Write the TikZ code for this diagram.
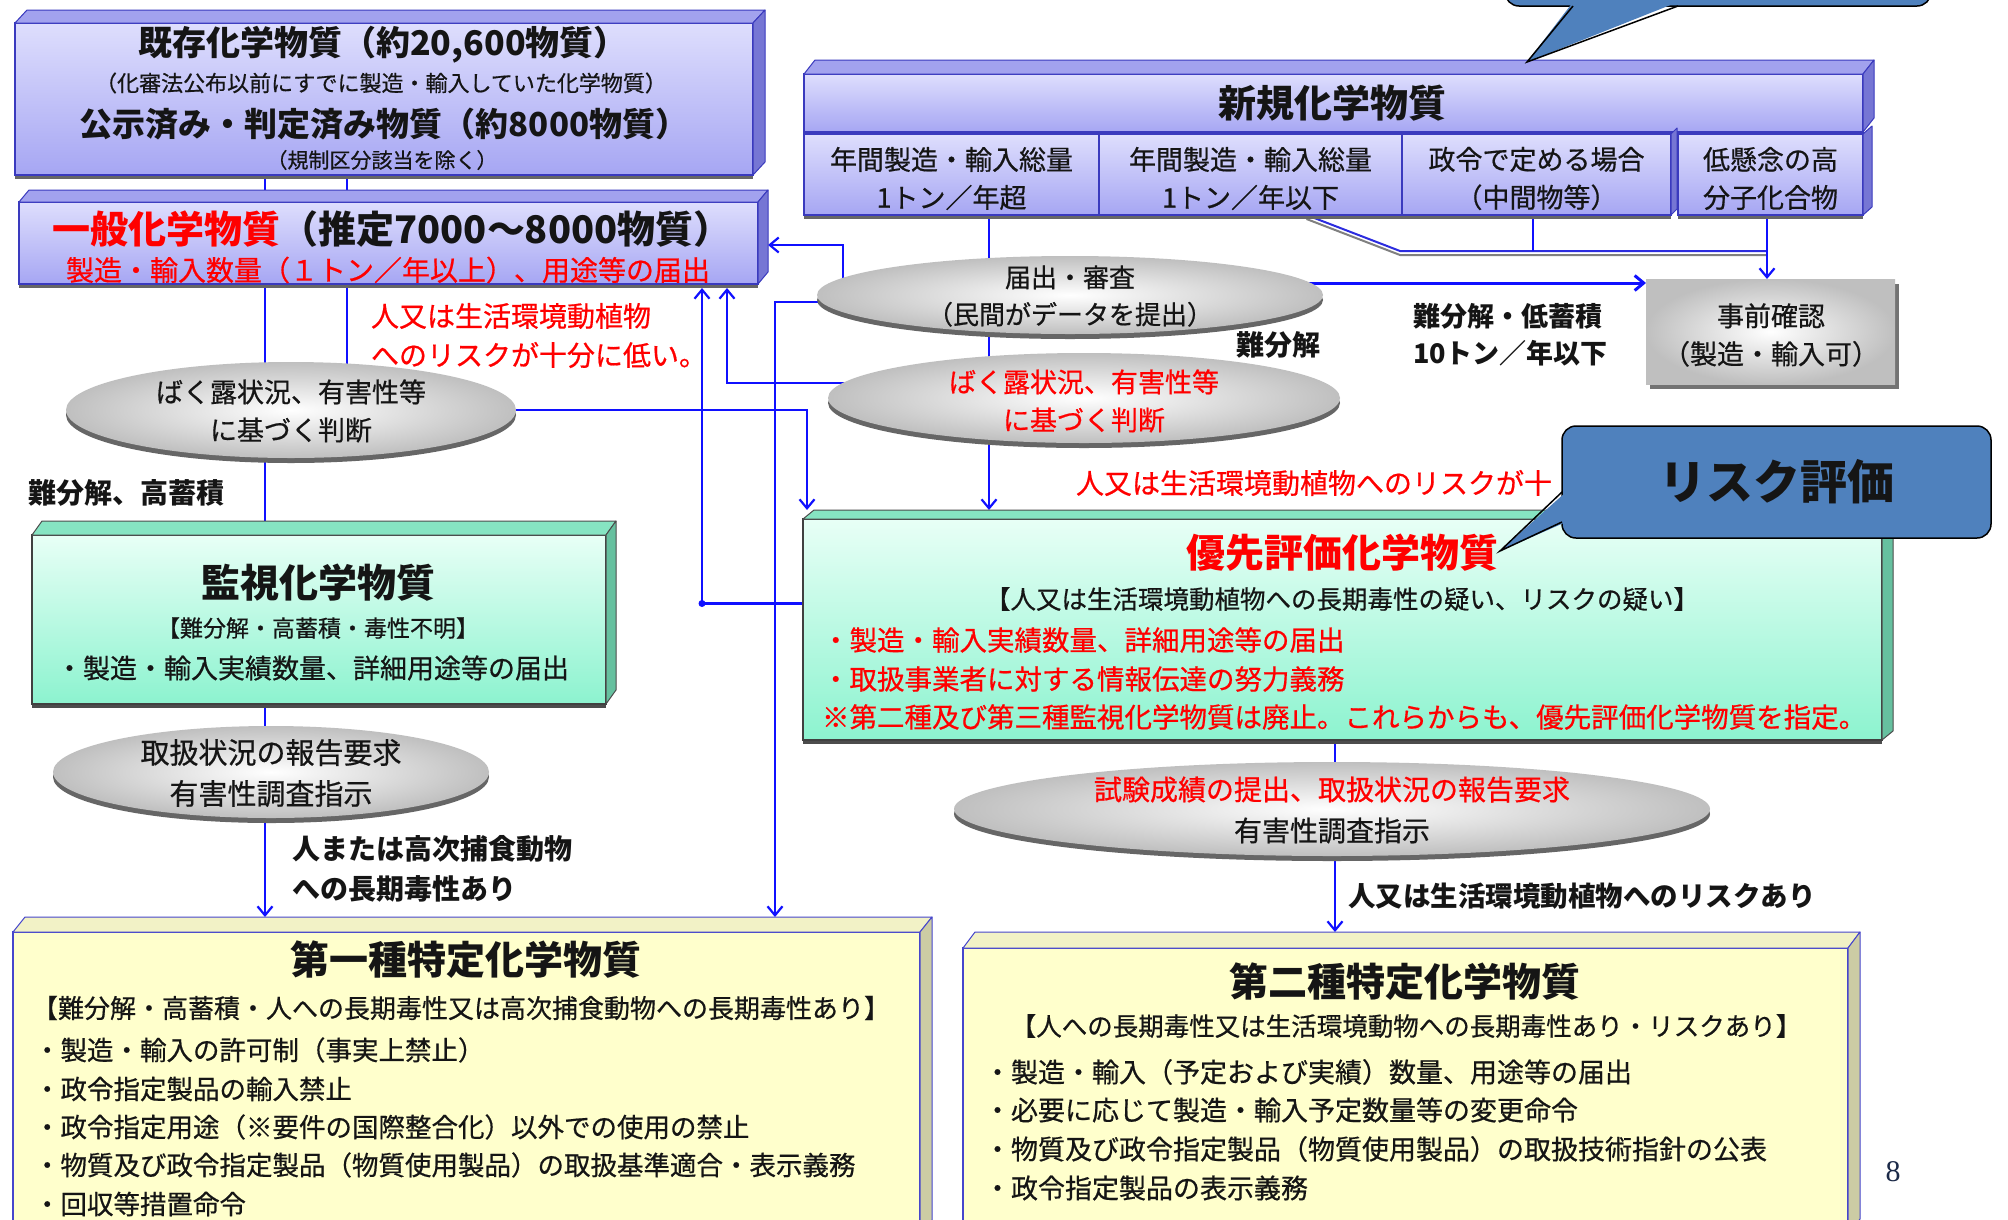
\documentclass[tikz,border=0pt]{standalone}
\usepackage{fontspec}
\setmainfont{Noto Sans CJK JP}[UprightFeatures={FakeBold=0.6}]
\newfontfamily\numfont{Liberation Serif}
\usetikzlibrary{arrows.meta,shapes.geometric,calc}
\pgfdeclarelayer{back}
\pgfdeclarelayer{bg}
\pgfsetlayers{back,bg,main}
\definecolor{lavtop}{HTML}{DEDEFD}
\definecolor{lavbot}{HTML}{A6A6F3}
\definecolor{lavbevel}{HTML}{A2A2EE}
\definecolor{lavside}{HTML}{7676D4}
\definecolor{lavedge}{HTML}{3A3ABE}
\definecolor{grtop}{HTML}{E8FFF6}
\definecolor{grbot}{HTML}{8CF3CF}
\definecolor{grbevel}{HTML}{86E4C2}
\definecolor{grside}{HTML}{66C09F}
\definecolor{yel}{HTML}{FFFFCC}
\definecolor{yelbevel}{HTML}{F2F2C6}
\definecolor{yelside}{HTML}{CCCCA4}
\definecolor{yeledge}{HTML}{4646CC}
\definecolor{callblue}{HTML}{4F81BD}
\definecolor{connblue}{HTML}{1010FF}
\definecolor{redtxt}{HTML}{FF0000}
\definecolor{txt}{HTML}{151515}
\definecolor{pagenum}{HTML}{1C2A48}
\newcommand{\fzz}[2]{\fontsize{#1}{#2}\selectfont}
\newcommand{\bevelbox}[6]{%
  \path[fill=#4,draw=#6,line width=1pt,line join=round] (#1.north west) -- ++(#2,-#3) -- ([shift={(#2,-#3)}]#1.north east) -- (#1.north east) -- cycle;
  \path[fill=#5,draw=#6,line width=1pt,line join=round] (#1.north east) -- ([shift={(#2,-#3)}]#1.north east) -- ([shift={(#2,-#3)}]#1.south east) -- (#1.south east) -- cycle;}
\newcommand{\sideface}[5]{%
  \path[fill=#4,draw=#5,line width=1pt,line join=round] (#1.north east) -- ([shift={(#2,-#3)}]#1.north east) -- ([shift={(#2,-#3)}]#1.south east) -- (#1.south east) -- cycle;}
\begin{document}
\begin{tikzpicture}[x=1pt,y=-1pt,
  every node/.style={inner sep=0pt,outer sep=0pt,text=txt},
  lavbox/.style={rectangle,top color=lavtop,bottom color=lavbot,draw=lavedge,line width=1.2pt,
     preaction={fill=black!60,transform canvas={yshift=-4pt}}},
  grbox/.style={rectangle,top color=grtop,bottom color=grbot,draw=black!75,line width=1.2pt,
     preaction={fill=black!70,transform canvas={yshift=-4pt}}},
  yelbox/.style={rectangle,fill=yel,draw=yeledge,line width=1.6pt},
  ell/.style={ellipse,inner color=white,outer color=gray!50,
     preaction={fill=black!60,transform canvas={yshift=-5pt}}},
  jz/.style={rectangle,inner color=white,outer color=gray!50,
     preaction={fill=black!55,transform canvas={xshift=4pt,yshift=-5pt}}},
  callrect/.style={rectangle,rounded corners=14pt,fill=callblue,draw=black,line width=1.5pt},
  cline/.style={draw=connblue,line width=2.2pt},
  arr/.style={cline,-{Straight Barb[length=9pt,width=15pt]}},
  redt/.style={text=redtxt}
]
\useasboundingbox (0,0) rectangle (2008,1219);
\begin{pgfonlayer}{back}
\fill[white] (0,0) rectangle (2008,1219);
\end{pgfonlayer}

% ---------- left column boxes ----------
\node[lavbox,minimum width=738,minimum height=152] (box1) at (384,99) {};
\bevelbox{box1}{12}{13}{lavbevel}{lavside}{lavedge}
\node[font=\bfseries\fzz{34}{34}] (t1) at (383,45) {既存化学物質（約20,600物質）};
\node[font=\fzz{22}{22}] (t2) at (381,83) {（化審法公布以前にすでに製造・輸入していた化学物質）};
\node[font=\bfseries\fzz{33}{33}] (t3) at (384,124) {公示済み・判定済み物質（約8000物質）};
\node[font=\fzz{21}{21}] (t4) at (382,160) {（規制区分該当を除く）};

\node[lavbox,minimum width=739,minimum height=82] (box2) at (388.5,243) {};
\bevelbox{box2}{10}{12}{lavbevel}{lavside}{lavedge}
\node[font=\bfseries\fzz{38}{38}] (t5) at (392,229) {\textcolor{redtxt}{一般化学物質}（推定7000～8000物質）};
\node[font=\fzz{28}{28},redt] (t6) at (388,270) {製造・輸入数量（１トン／年以上）、用途等の届出};

\node[font=\fzz{28}{28},redt,anchor=west] (t7) at (371,316) {人又は生活環境動植物};
\node[font=\fzz{28}{28},redt,anchor=west] (t8) at (371,355) {へのリスクが十分に低い。};

\node[ell,minimum width=450,minimum height=96] (elA) at (291,410) {};
\node[font=\fzz{27}{38},align=center] (elAt) at (291,411) {ばく露状況、有害性等\\に基づく判断};

\node[font=\bfseries\fzz{28}{28},anchor=west] (t9) at (28,493) {難分解、高蓄積};

\node[grbox,minimum width=574,minimum height=169] (kanshi) at (319,619.5) {};
\bevelbox{kanshi}{10}{14}{grbevel}{grside}{black!70}
\node[font=\bfseries\fzz{39}{39}] (t10) at (318,583) {監視化学物質};
\node[font=\fzz{23}{23}] (t11) at (318,628) {【難分解・高蓄積・毒性不明】};
\node[font=\fzz{27}{27},anchor=west] (t12) at (56,668) {・製造・輸入実績数量、詳細用途等の届出};

\node[ell,minimum width=436,minimum height=92] (elC) at (271,772) {};
\node[font=\fzz{29}{41},align=center] (elCt) at (271,773) {取扱状況の報告要求\\有害性調査指示};

\node[font=\bfseries\fzz{28}{28},anchor=west] (t20) at (292,849) {人または高次捕食動物};
\node[font=\bfseries\fzz{28}{28},anchor=west] (t21) at (292,889) {への長期毒性あり};

\node[yelbox,minimum width=907,minimum height=303] (dai1) at (466.5,1083.5) {};
\bevelbox{dai1}{12}{15}{yelbevel}{yelside}{yeledge}
\node[font=\bfseries\fzz{39}{39}] (t13) at (466,960) {第一種特定化学物質};
\node[font=\fzz{26}{26}] (t14) at (461,1008) {【難分解・高蓄積・人への長期毒性又は高次捕食動物への長期毒性あり】};
\node[font=\fzz{26.5}{26.5},anchor=west] (t15) at (34,1050) {・製造・輸入の許可制（事実上禁止）};
\node[font=\fzz{26.5}{26.5},anchor=west] (t16) at (34,1089) {・政令指定製品の輸入禁止};
\node[font=\fzz{26.5}{26.5},anchor=west] (t17) at (34,1127) {・政令指定用途（※要件の国際整合化）以外での使用の禁止};
\node[font=\fzz{26.5}{26.5},anchor=west] (t18) at (34,1165) {・物質及び政令指定製品（物質使用製品）の取扱基準適合・表示義務};
\node[font=\fzz{26.5}{26.5},anchor=west] (t19) at (34,1204) {・回収等措置命令};

% ---------- right column ----------
\node[lavbox,minimum width=1059,minimum height=58] (shinki) at (1333.5,103) {};
\bevelbox{shinki}{11}{14}{lavbevel}{lavside}{lavedge}
\node[font=\bfseries\fzz{38}{38}] (t22) at (1332,103) {新規化学物質};

\node[lavbox,minimum width=295,minimum height=81] (c1) at (951.5,174.5) {};
\node[lavbox,minimum width=303,minimum height=81] (c2) at (1250.5,174.5) {};
\node[lavbox,minimum width=269,minimum height=81] (c3) at (1536.5,174.5) {};
\sideface{c3}{6}{6}{lavside}{lavedge}
\node[lavbox,minimum width=185,minimum height=81] (c4) at (1770.5,174.5) {};
\sideface{c4}{9}{8}{lavside}{lavedge}
\node[font=\fzz{27}{38},align=center] (c1t) at ([yshift=-4pt]c1.center) {年間製造・輸入総量\\1トン／年超};
\node[font=\fzz{27}{38},align=center] (c2t) at ([yshift=-4pt]c2.center) {年間製造・輸入総量\\1トン／年以下};
\node[font=\fzz{27}{38},align=center] (c3t) at ([yshift=-4pt]c3.center) {政令で定める場合\\（中間物等）};
\node[font=\fzz{27}{38},align=center] (c4t) at ([yshift=-4pt]c4.center) {低懸念の高\\分子化合物};

\node[ell,minimum width=506,minimum height=78] (elB) at (1070,295) {};
\node[font=\fzz{26}{37},align=center] (elBt) at (1070,296) {届出・審査\\（民間がデータを提出）};

\node[jz,minimum width=249,minimum height=105] (jizen) at (1770.5,331.5) {};
\node[font=\fzz{27}{38},align=center] (jzt) at (1771,335) {事前確認\\（製造・輸入可）};

\node[font=\bfseries\fzz{27}{27},anchor=west] (t24) at (1413,316) {難分解・低蓄積};
\node[font=\bfseries\fzz{27}{27},anchor=west] (t25) at (1413,353) {10トン／年以下};

\node[ell,minimum width=512,minimum height=90] (elD) at (1084,398) {};
\node[font=\fzz{27}{38},align=center,redt] (elDt) at (1084,401) {ばく露状況、有害性等\\に基づく判断};
\node[font=\bfseries\fzz{28}{28}] (t23) at (1278,345) {難分解};

\node[font=\fzz{28}{28},redt,anchor=west] (t26) at (1076,483) {人又は生活環境動植物へのリスクが十};

\node[grbox,minimum width=1079,minimum height=221] (yusen) at (1342.5,629.5) {};
\bevelbox{yusen}{11}{9}{grbevel}{grside}{black!70}
\node[font=\bfseries\fzz{39}{39},redt] (t27) at (1342,553) {優先評価化学物質};
\node[font=\fzz{25.5}{25.5}] (t28) at (1342,599) {【人又は生活環境動植物への長期毒性の疑い、リスクの疑い】};
\node[font=\fzz{27.5}{27.5},redt,anchor=west] (t29) at (822,640) {・製造・輸入実績数量、詳細用途等の届出};
\node[font=\fzz{27.5}{27.5},redt,anchor=west] (t30) at (822,679) {・取扱事業者に対する情報伝達の努力義務};
\node[font=\fzz{27.5}{27.5},redt,anchor=west] (t31) at (822,717) {※第二種及び第三種監視化学物質は廃止。これらからも、優先評価化学物質を指定。};

\node[ell,minimum width=756,minimum height=94] (elE) at (1332,809) {};
\node[font=\fzz{28}{41},align=center] (elEt) at (1332,810) {\textcolor{redtxt}{試験成績の提出、取扱状況の報告要求}\\有害性調査指示};

\node[font=\bfseries\fzz{27.5}{27.5},anchor=west] (t32) at (1348,896) {人又は生活環境動植物へのリスクあり};

\node[yelbox,minimum width=885,minimum height=287] (dai2) at (1405.5,1091.5) {};
\bevelbox{dai2}{12}{16}{yelbevel}{yelside}{yeledge}
\node[font=\bfseries\fzz{39}{39}] (t33) at (1405,982) {第二種特定化学物質};
\node[font=\fzz{25.5}{25.5}] (t34) at (1406,1026) {【人への長期毒性又は生活環境動物への長期毒性あり・リスクあり】};
\node[font=\fzz{27}{27},anchor=west] (t35) at (984,1072) {・製造・輸入（予定および実績）数量、用途等の届出};
\node[font=\fzz{27}{27},anchor=west] (t36) at (984,1110) {・必要に応じて製造・輸入予定数量等の変更命令};
\node[font=\fzz{27}{27},anchor=west] (t37) at (984,1149) {・物質及び政令指定製品（物質使用製品）の取扱技術指針の公表};
\node[font=\fzz{27}{27},anchor=west] (t38) at (984,1188) {・政令指定製品の表示義務};

\node[font=\numfont\fzz{30}{30},text=pagenum] (pg) at (1893,1172) {8};

% ---------- callouts ----------
\node[callrect,minimum width=426,minimum height=60] (callA) at (1718,-24) {};
\coordinate (callAtip) at (1527,62);
\coordinate (callAb1) at ([xshift=68pt]callA.south west);
\coordinate (callAb2) at ([xshift=173pt]callA.south west);
\fill[callblue] ([yshift=4pt]callAb1) -- (callAtip) -- ([yshift=4pt]callAb2) -- cycle;
\draw[black,line width=1.5pt,line join=miter] (callAb1) -- (callAtip) -- (callAb2);

\node[callrect,minimum width=429,minimum height=112,font=\bfseries\fzz{47}{47}] (callB) at (1776.5,482) {リスク評価};
\coordinate (callBtip) at (1500,551);
\coordinate (callBb1) at ([yshift=-10pt]callB.west);
\coordinate (callBb2) at ([yshift=-40pt]callB.west);
\fill[callblue] ([xshift=4pt]callBb1) -- (callBtip) -- ([xshift=4pt]callBb2) -- cycle;
\draw[black,line width=1.5pt,line join=miter] (callBb1) -- (callBtip) -- (callBb2);

% ---------- connectors ----------
\coordinate (xa) at (265,0);
\coordinate (xb) at (347,0);
\coordinate (xc) at (702,0);
\coordinate (xd) at (727,0);
\coordinate (xe) at (775,0);
\coordinate (xf) at (807,0);
\coordinate (xg) at (843,0);
\coordinate (xh) at (989,0);
\coordinate (xi) at (1533,0);
\coordinate (xj) at (1767,0);
\coordinate (xk) at (1335,0);
\coordinate (box2E) at ([xshift=10pt,yshift=-2pt]box2.east);
\coordinate (box2B) at ([yshift=-4pt]box2.south);
\coordinate (dai1T) at ([yshift=15pt]dai1.north);
\coordinate (dai2T) at ([yshift=16pt]dai2.north);
\coordinate (yusenT) at ([yshift=9pt]yusen.north);
\coordinate (yw) at ([yshift=26pt]yusen.west);
\coordinate (ebw) at ([xshift=15pt,yshift=-7pt]elB.west);
\coordinate (edw) at ([xshift=20pt,yshift=15pt]elD.west);
\coordinate (ebe) at ([xshift=-15pt,yshift=12pt]elB.east);
\coordinate (dlA) at ([xshift=56pt]c2.south);
\coordinate (dlB) at (1400,251);
\begin{pgfonlayer}{bg}
\draw[cline] (box1.south -| xa) -- (box2.north -| xa);
\draw[cline] (box1.south -| xb) -- (box2.north -| xb);
\draw[cline] (box2.south -| xa) -- (elA -| xa);
\draw[cline] (box2.south -| xb) -- (elA -| xb);
\draw[cline] (elA -| xa) -- (kanshi -| xa);
\draw[cline] (kanshi -| xa) -- (elC -| xa);
\draw[arr] (elC -| xa) -- (dai1T -| xa);
\draw[arr] (elB -| xg) |- (box2E);
\draw[arr] (edw) -| (box2B -| xd);
\draw[arr] (yw) -| (box2B -| xc);
\fill[connblue] (yw -| xc) circle[radius=3.5pt];
\draw[arr] (ebw) -| (dai1T -| xe);
\draw[arr] (elA.east) -| (yusenT -| xf);
\draw[cline] (c1.south -| xh) -- (elB -| xh);
\draw[cline] (elB -| xh) -- (elD -| xh);
\draw[arr] (elD -| xh) -- (yusenT -| xh);
\draw[arr,line width=3pt] (ebe) -- (ebe -| jizen.west);
\draw[gray,line width=2pt] ([yshift=-4pt]dlA) -- ([yshift=-4pt]dlB) -- ([yshift=-4pt]dlB -| xj);
\draw[connblue!75!gray,line width=2pt] (dlA) -- (dlB) -- (dlB -| xj);
\draw[cline] (c3.south -| xi) -- (dlB -| xi);
\draw[arr] (c4.south -| xj) -- (jizen.north -| xj);
\draw[cline] (yusen -| xk) -- (elE -| xk);
\draw[arr] (elE -| xk) -- (dai2T -| xk);
\end{pgfonlayer}
\end{tikzpicture}
\end{document}
